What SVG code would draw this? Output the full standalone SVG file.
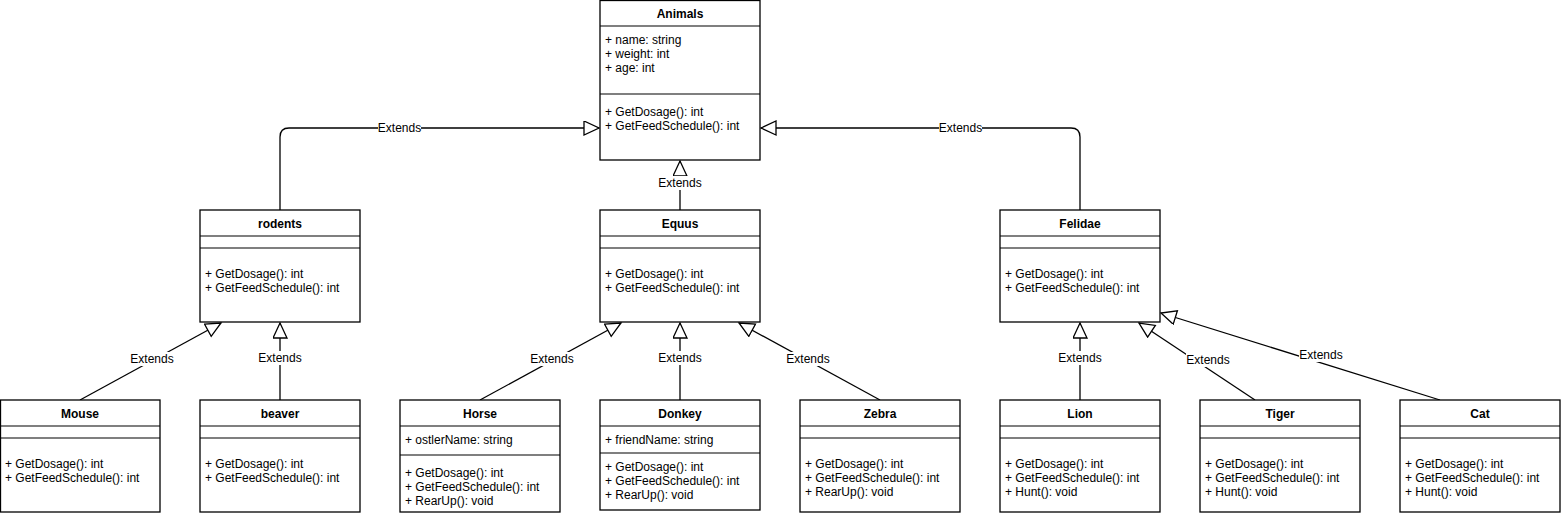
<svg xmlns="http://www.w3.org/2000/svg" width="1562" height="516" viewBox="0 0 1562 516">
<style>
.box{fill:#fff;stroke:#000;stroke-width:1.3}
.ln{stroke:#000;stroke-width:1.2;fill:none}
.t{font-family:"Liberation Sans",Arial,sans-serif;font-size:12px;fill:#000}
.h{font-family:"Liberation Sans",Arial,sans-serif;font-size:12px;font-weight:bold;fill:#000;text-anchor:middle}
.c{stroke:#000;stroke-width:1.3;fill:none}
.lb{font-family:"Liberation Sans",Arial,sans-serif;font-size:12px;fill:#000;text-anchor:middle}
.lbg{fill:#fff}
</style>
<defs>
<marker id="tri" markerUnits="userSpaceOnUse" markerWidth="18" markerHeight="16" refX="16" refY="7.5" orient="auto" viewBox="0 0 18 16">
<path d="M1,0.5 L16,7.5 L1,14.5 Z" fill="#fff" stroke="#000" stroke-width="1.3"/>
</marker>
</defs>
<g id="connectors">
<path class="c" d="M280,210 L280,137 Q280,128 289,128 L599,128" marker-end="url(#tri)"/>
<path class="c" d="M1080,210 L1080,137 Q1080,128 1071,128 L761,128" marker-end="url(#tri)"/>
<path class="c" d="M680,210 L680,161" marker-end="url(#tri)"/>
<path class="c" d="M80,400 L221,323" marker-end="url(#tri)"/>
<path class="c" d="M280,400 L280,323" marker-end="url(#tri)"/>
<path class="c" d="M480,400 L621,323" marker-end="url(#tri)"/>
<path class="c" d="M680,400 L680,323" marker-end="url(#tri)"/>
<path class="c" d="M880,400 L739,323" marker-end="url(#tri)"/>
<path class="c" d="M1080,400 L1080,323" marker-end="url(#tri)"/>
<path class="c" d="M1255,400 L1139,323" marker-end="url(#tri)"/>
<path class="c" d="M1440,400 L1161,313" marker-end="url(#tri)"/>
<rect class="lbg" x="378" y="121" width="43" height="14"/><text class="lb" x="399.5" y="132">Extends</text>
<rect class="lbg" x="939" y="121" width="43" height="14"/><text class="lb" x="960.5" y="132">Extends</text>
<rect class="lbg" x="658" y="176" width="43" height="14"/><text class="lb" x="680" y="187">Extends</text>
<rect class="lbg" x="130" y="352" width="43" height="14"/><text class="lb" x="152" y="363">Extends</text>
<rect class="lbg" x="258" y="351" width="43" height="14"/><text class="lb" x="280" y="362">Extends</text>
<rect class="lbg" x="530" y="352" width="43" height="14"/><text class="lb" x="552" y="363">Extends</text>
<rect class="lbg" x="658" y="351" width="43" height="14"/><text class="lb" x="680" y="362">Extends</text>
<rect class="lbg" x="786" y="352" width="43" height="14"/><text class="lb" x="808" y="363">Extends</text>
<rect class="lbg" x="1058" y="351" width="43" height="14"/><text class="lb" x="1080" y="362">Extends</text>
<rect class="lbg" x="1186" y="353" width="43" height="14"/><text class="lb" x="1208" y="364">Extends</text>
<rect class="lbg" x="1299" y="348" width="43" height="14"/><text class="lb" x="1321" y="359">Extends</text>
</g>
<g id="Animals">
<rect class="box" x="600" y="0.5" width="160" height="159.5"/>
<line class="ln" x1="600" y1="26" x2="760" y2="26"/>
<line class="ln" x1="600" y1="94" x2="760" y2="94"/>
<text class="h" x="680" y="18">Animals</text>
<text class="t" x="605" y="44">+ name: string</text>
<text class="t" x="605" y="58">+ weight: int</text>
<text class="t" x="605" y="72">+ age: int</text>
<text class="t" x="605" y="116">+ GetDosage(): int</text>
<text class="t" x="605" y="130">+ GetFeedSchedule(): int</text>
</g>
<g id="rodents">
<rect class="box" x="200" y="210" width="160" height="112"/>
<line class="ln" x1="200" y1="236" x2="360" y2="236"/>
<line class="ln" x1="200" y1="248" x2="360" y2="248"/>
<text class="h" x="280" y="228">rodents</text>
<text class="t" x="205" y="278">+ GetDosage(): int</text>
<text class="t" x="205" y="292">+ GetFeedSchedule(): int</text>
</g>
<g id="Equus">
<rect class="box" x="600" y="210" width="160" height="112"/>
<line class="ln" x1="600" y1="236" x2="760" y2="236"/>
<line class="ln" x1="600" y1="248" x2="760" y2="248"/>
<text class="h" x="680" y="228">Equus</text>
<text class="t" x="605" y="278">+ GetDosage(): int</text>
<text class="t" x="605" y="292">+ GetFeedSchedule(): int</text>
</g>
<g id="Felidae">
<rect class="box" x="1000" y="210" width="160" height="112"/>
<line class="ln" x1="1000" y1="236" x2="1160" y2="236"/>
<line class="ln" x1="1000" y1="248" x2="1160" y2="248"/>
<text class="h" x="1080" y="228">Felidae</text>
<text class="t" x="1005" y="278">+ GetDosage(): int</text>
<text class="t" x="1005" y="292">+ GetFeedSchedule(): int</text>
</g>
<g id="Mouse">
<rect class="box" x="0.5" y="400" width="159.5" height="112"/>
<line class="ln" x1="0" y1="426" x2="160" y2="426"/>
<line class="ln" x1="0" y1="438" x2="160" y2="438"/>
<text class="h" x="80" y="418">Mouse</text>
<text class="t" x="5" y="468">+ GetDosage(): int</text>
<text class="t" x="5" y="482">+ GetFeedSchedule(): int</text>
</g>
<g id="beaver">
<rect class="box" x="200" y="400" width="160" height="112"/>
<line class="ln" x1="200" y1="426" x2="360" y2="426"/>
<line class="ln" x1="200" y1="438" x2="360" y2="438"/>
<text class="h" x="280" y="418">beaver</text>
<text class="t" x="205" y="468">+ GetDosage(): int</text>
<text class="t" x="205" y="482">+ GetFeedSchedule(): int</text>
</g>
<g id="Horse">
<rect class="box" x="400" y="400" width="160" height="112"/>
<line class="ln" x1="400" y1="426" x2="560" y2="426"/>
<line class="ln" x1="400" y1="455" x2="560" y2="455"/>
<text class="h" x="480" y="418">Horse</text>
<text class="t" x="405" y="444">+ ostlerName: string</text>
<text class="t" x="405" y="477">+ GetDosage(): int</text>
<text class="t" x="405" y="491">+ GetFeedSchedule(): int</text>
<text class="t" x="405" y="505">+ RearUp(): void</text>
</g>
<g id="Donkey">
<rect class="box" x="600" y="400" width="160" height="110"/>
<line class="ln" x1="600" y1="426" x2="760" y2="426"/>
<line class="ln" x1="600" y1="453" x2="760" y2="453"/>
<text class="h" x="680" y="418">Donkey</text>
<text class="t" x="605" y="444">+ friendName: string</text>
<text class="t" x="605" y="471">+ GetDosage(): int</text>
<text class="t" x="605" y="485">+ GetFeedSchedule(): int</text>
<text class="t" x="605" y="499">+ RearUp(): void</text>
</g>
<g id="Zebra">
<rect class="box" x="800" y="400" width="160" height="112"/>
<line class="ln" x1="800" y1="426" x2="960" y2="426"/>
<line class="ln" x1="800" y1="438" x2="960" y2="438"/>
<text class="h" x="880" y="418">Zebra</text>
<text class="t" x="805" y="468">+ GetDosage(): int</text>
<text class="t" x="805" y="482">+ GetFeedSchedule(): int</text>
<text class="t" x="805" y="496">+ RearUp(): void</text>
</g>
<g id="Lion">
<rect class="box" x="1000" y="400" width="160" height="112"/>
<line class="ln" x1="1000" y1="426" x2="1160" y2="426"/>
<line class="ln" x1="1000" y1="438" x2="1160" y2="438"/>
<text class="h" x="1080" y="418">Lion</text>
<text class="t" x="1005" y="468">+ GetDosage(): int</text>
<text class="t" x="1005" y="482">+ GetFeedSchedule(): int</text>
<text class="t" x="1005" y="496">+ Hunt(): void</text>
</g>
<g id="Tiger">
<rect class="box" x="1200" y="400" width="160" height="112"/>
<line class="ln" x1="1200" y1="426" x2="1360" y2="426"/>
<line class="ln" x1="1200" y1="438" x2="1360" y2="438"/>
<text class="h" x="1280" y="418">Tiger</text>
<text class="t" x="1205" y="468">+ GetDosage(): int</text>
<text class="t" x="1205" y="482">+ GetFeedSchedule(): int</text>
<text class="t" x="1205" y="496">+ Hunt(): void</text>
</g>
<g id="Cat">
<rect class="box" x="1400" y="400" width="160" height="112"/>
<line class="ln" x1="1400" y1="426" x2="1560" y2="426"/>
<line class="ln" x1="1400" y1="438" x2="1560" y2="438"/>
<text class="h" x="1480" y="418">Cat</text>
<text class="t" x="1405" y="468">+ GetDosage(): int</text>
<text class="t" x="1405" y="482">+ GetFeedSchedule(): int</text>
<text class="t" x="1405" y="496">+ Hunt(): void</text>
</g>
</svg>
